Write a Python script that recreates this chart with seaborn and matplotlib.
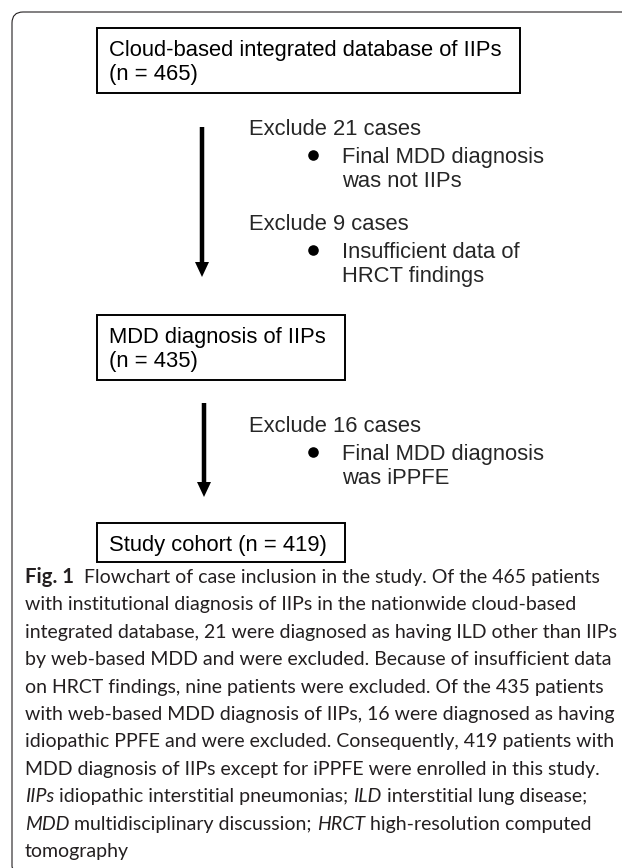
import matplotlib
matplotlib.use("Agg")
import matplotlib.pyplot as plt
from matplotlib.patches import Rectangle, FancyArrow, PathPatch
from matplotlib.path import Path
import seaborn as sns

# ---- flowchart data ----
stage_labels = ["Cloud-based integrated database of IIPs", "MDD diagnosis of IIPs", "Study cohort"]
stage_n = [465, 435, 419]
excluded_n = [21, 9, 16]
excluded_reason = [["Final MDD diagnosis", "was not IIPs"],
                   ["Insufficient data of", "HRCT findings"],
                   ["Final MDD diagnosis", "was iPPFE"]]

# caption text, one list of (text, style) runs per line
caption_lines = [
    [("Fig. 1", "bold"), ("  Flowchart of case inclusion in the study. Of the 465 patients", "normal")],
    [("with institutional diagnosis of IIPs in the nationwide cloud-based", "normal")],
    [("integrated database, 21 were diagnosed as having ILD other than IIPs", "normal")],
    [("by web-based MDD and were excluded. Because of insufficient data", "normal")],
    [("on HRCT findings, nine patients were excluded. Of the 435 patients", "normal")],
    [("with web-based MDD diagnosis of IIPs, 16 were diagnosed as having", "normal")],
    [("idiopathic PPFE and were excluded. Consequently, 419 patients with", "normal")],
    [("MDD diagnosis of IIPs except for iPPFE were enrolled in this study.", "normal")],
    [("IIPs", "italic"), (" idiopathic interstitial pneumonias; ", "normal"),
     ("ILD", "italic"), (" interstitial lung disease;", "normal")],
    [("MDD", "italic"), (" multidisciplinary discussion; ", "normal"),
     ("HRCT", "italic"), (" high-resolution computed", "normal")],
    [("tomography", "normal")],
]

# ---- layout (pixels) ----
W, H = 622, 868
box_xy = [(97, 28, 520, 93), (97, 315, 345, 380), (97, 523, 345, 562)]
arrow_x = [202, 204]
arrow_y = [(127, 277), (403, 497)]
excl_x, bullet_x, reason_x = 249, 313, 342
excl_base = [135, 230, 432]
cap_x, cap_y0, cap_step = 25, 583, 27.4

sns.set_theme(style="white")
plt.rcParams["font.family"] = ["Liberation Sans", "DejaVu Sans"]

fig = plt.figure(figsize=(W / 100, H / 100), dpi=100)
ax = fig.add_axes([0, 0, 1, 1])

# bullets for the exclusion reasons
sns.scatterplot(x=[bullet_x] * len(excl_base), y=[b + 20 for b in excl_base],
                color="black", s=58, linewidth=0, legend=False, ax=ax)

# outer frame: top edge and left edge with rounded corners, open to the right/bottom
r = 11
frame = Path([(W + 20, 12), (12 + r, 12), (12, 12), (12, 12 + r), (12, H - 2),
              (12, H + 4), (12 + r, H + 4)],
             [Path.MOVETO, Path.LINETO, Path.CURVE3, Path.CURVE3, Path.LINETO,
              Path.CURVE3, Path.CURVE3])
ax.add_patch(PathPatch(frame, fill=False, lw=0.8, ec="#231f20"))

# stage boxes
for i, (x0, y0, x1, y1) in enumerate(box_xy):
    ax.add_patch(Rectangle((x0, y0), x1 - x0, y1 - y0, fill=False, lw=1.4, ec="black"))
    if i < 2:
        lines = [stage_labels[i], f"(n = {stage_n[i]})"]
    else:
        lines = [f"{stage_labels[i]} (n = {stage_n[i]})"]
    for k, line in enumerate(lines):
        ax.text(x0 + 12, y0 + 28 + 24 * k, line, fontsize=15.8, va="baseline", color="black")

# arrows
for x, (y0, y1) in zip(arrow_x, arrow_y):
    ax.add_patch(FancyArrow(x, y0, 0, y1 - y0, width=4.5, head_width=14, head_length=15,
                            length_includes_head=True, color="black", lw=0))

# exclusion notes
for n, reason, yb in zip(excluded_n, excluded_reason, excl_base):
    ax.text(excl_x, yb, f"Exclude {n} cases", fontsize=15.8, va="baseline")
    for k, line in enumerate(reason):
        ax.text(reason_x, yb + 28 + 24 * k, line, fontsize=15.8, va="baseline")

# caption with mixed styles
renderer = fig.canvas.get_renderer()
cap_font = dict(family=["Lato", "DejaVu Sans"], fontsize=14, color="#231f20", va="baseline")


def run_width(txt, style):
    kw = dict(cap_font)
    kw["fontweight"] = "bold" if style == "bold" else "normal"
    kw["fontstyle"] = "italic" if style == "italic" else "normal"
    if style == "bold":
        kw["fontsize"] = 14.6
    a = ax.text(0, 0, "|" + txt + "|", **kw)
    b = ax.text(0, 0, "||", **kw)
    w = a.get_window_extent(renderer).width - b.get_window_extent(renderer).width
    a.remove()
    b.remove()
    return w, kw


for i, runs in enumerate(caption_lines):
    x = cap_x
    y = cap_y0 + cap_step * i
    for txt, style in runs:
        w, kw = run_width(txt, style)
        ax.text(x, y, txt, **kw)
        x += w

ax.set_xlim(0, W)
ax.set_ylim(H, 0)
ax.axis("off")

fig.savefig("out.png", dpi=100)
